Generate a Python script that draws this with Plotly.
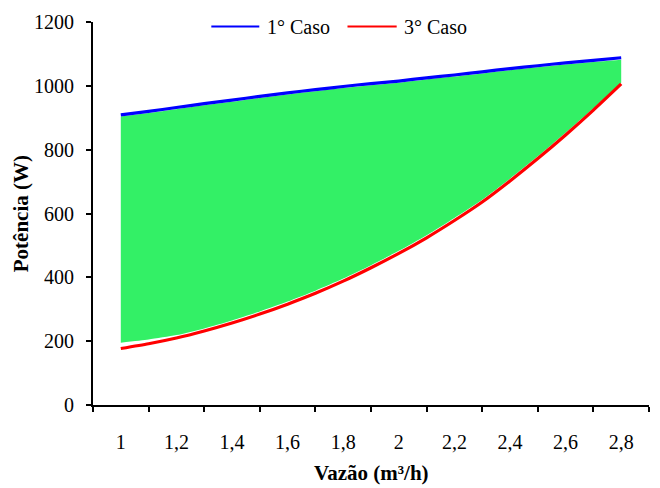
import plotly.graph_objects as go

# Vazão (m³/h)
vazao = [1.0, 1.1, 1.2, 1.3, 1.4, 1.5, 1.6, 1.7, 1.8, 1.9,
         2.0, 2.1, 2.2, 2.3, 2.4, 2.5, 2.6, 2.7, 2.8]

# Potência (W) - 1º Caso
caso1 = [909, 920, 932, 944, 955, 967, 978, 988, 998, 1007,
         1015, 1025, 1034, 1044, 1054, 1063, 1072, 1080, 1088]

# Potência (W) - 3º Caso
caso3 = [177, 192, 210, 232, 257, 285, 316, 350, 388, 430,
         475, 524, 578, 636, 702, 772, 846, 924, 1006]

# limits of the shaded band between the two cases
faixa_inf = [195, 205, 219, 240, 265, 293, 324, 358, 396, 438,
             483, 532, 586, 643, 709, 779, 853, 930, 1010]
faixa_sup = [904, 915, 927, 939, 950, 962, 973, 983, 993, 1002,
             1010, 1020, 1029, 1039, 1049, 1058, 1067, 1075, 1082]

# x-axis labels and their positions
rotulos_x = ["1", "1,2", "1,4", "1,6", "1,8", "2", "2,2", "2,4", "2,6", "2,8"]
posicoes_x = [1.0, 1.2, 1.4, 1.6, 1.8, 2.0, 2.2, 2.4, 2.6, 2.8]

AZUL = "#0000FF"
VERMELHO = "#FF0000"
VERDE = "#33F066"
FONTE = "Times New Roman, Liberation Serif, DejaVu Serif, serif"

fig = go.Figure()

fig.add_trace(go.Scatter(x=vazao, y=faixa_inf, mode="lines",
                         line=dict(width=0, color=VERDE, shape="spline", smoothing=0.6),
                         showlegend=False, hoverinfo="skip"))
fig.add_trace(go.Scatter(x=vazao, y=faixa_sup, mode="lines",
                         line=dict(width=0, color=VERDE, shape="spline", smoothing=0.6),
                         fill="tonexty", fillcolor=VERDE,
                         showlegend=False, hoverinfo="skip"))
fig.add_trace(go.Scatter(x=vazao, y=caso1, mode="lines", name="1° Caso",
                         line=dict(color=AZUL, width=3.2, shape="spline", smoothing=0.6),
                         showlegend=False))
fig.add_trace(go.Scatter(x=vazao, y=caso3, mode="lines", name="3° Caso",
                         line=dict(color=VERMELHO, width=3.2, shape="spline", smoothing=0.6),
                         showlegend=False))

fig.update_xaxes(
    range=[0.9, 2.9],
    tickmode="array", tickvals=posicoes_x, ticktext=rotulos_x,
    ticks="", ticklabelstandoff=18,
    minor=dict(tickmode="linear", tick0=0.9, dtick=0.2, ticks="outside",
               ticklen=5, tickwidth=1.5, tickcolor="black", showgrid=False),
    showline=True, linecolor="black", linewidth=2,
    showgrid=False, zeroline=False,
    tickfont=dict(family=FONTE, size=20, color="black"),
)
fig.update_yaxes(
    range=[0, 1200], tickmode="linear", tick0=0, dtick=200,
    ticks="outside", ticklen=5, tickwidth=1.5, tickcolor="black",
    ticksuffix="\u2009\u2009",
    showline=True, linecolor="black", linewidth=2,
    showgrid=False, zeroline=False,
    tickfont=dict(family=FONTE, size=20, color="black"),
)

anotacoes = [
    dict(text="<b>Vazão (m³/h)</b>", x=0.5, y=-0.178, xref="paper", yref="paper",
         showarrow=False, font=dict(family=FONTE, size=21, color="black"),
         xanchor="center", yanchor="middle"),
    dict(text="<b>Potência (W)</b>", x=-0.13, y=0.5, xref="paper", yref="paper",
         showarrow=False, textangle=-90, font=dict(family=FONTE, size=21, color="black"),
         xanchor="center", yanchor="middle"),
    dict(text="1° Caso", x=0.310, y=0.988, xref="paper", yref="paper",
         showarrow=False, font=dict(family=FONTE, size=20, color="black"),
         xanchor="left", yanchor="middle"),
    dict(text="3° Caso", x=0.5558, y=0.988, xref="paper", yref="paper",
         showarrow=False, font=dict(family=FONTE, size=20, color="black"),
         xanchor="left", yanchor="middle"),
]
formas = [
    dict(type="line", xref="paper", yref="paper", x0=0.2128, x1=0.2991,
         y0=0.988, y1=0.988, line=dict(color=AZUL, width=2)),
    dict(type="line", xref="paper", yref="paper", x0=0.4577, x1=0.5462,
         y0=0.988, y1=0.988, line=dict(color=VERMELHO, width=2)),
]

fig.update_layout(
    width=660, height=488,
    margin=dict(l=93, r=11, t=16, b=83),
    font=dict(family=FONTE),
    paper_bgcolor="white", plot_bgcolor="white",
    annotations=anotacoes, shapes=formas,
    showlegend=False,
)

fig.write_html("out.html")
